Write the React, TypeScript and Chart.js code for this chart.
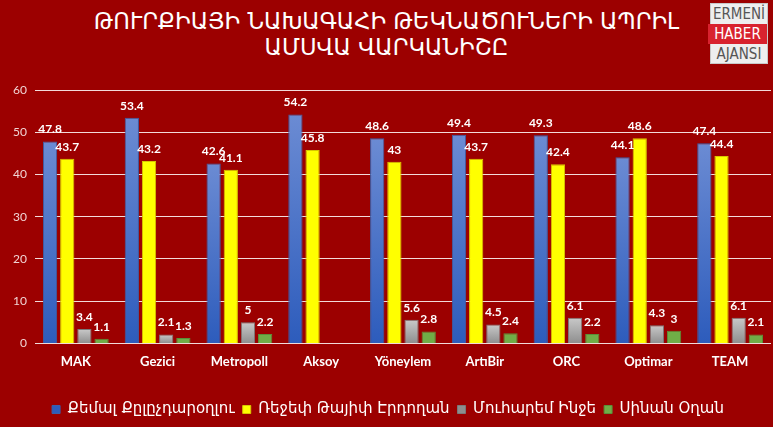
import React, { useEffect, useRef } from "react";
import { Chart, registerables } from "chart.js";

Chart.register(...registerables);

const titleLines = ["ԹՈՒՐՔԻԱՅԻ ՆԱԽԱԳԱՀԻ ԹԵԿՆԱԾՈՒՆԵՐԻ ԱՊՐԻԼ", "ԱՄՍՎԱ ՎԱՐԿԱՆԻՇԸ"];
const categories = ["MAK", "Gezici", "Metropoll", "Aksoy", "Yöneylem", "ArtıBir", "ORC", "Optimar", "TEAM"];
const seriesNames = ["Քեմալ Քըլըչդարօղլու", "Ռեջեփ Թայիփ Էրդողան", "Մուհարեմ Ինջե", "Սինան Օղան"];
const kilicdaroglu = [47.8, 53.4, 42.6, 54.2, 48.6, 49.4, 49.3, 44.1, 47.4];
const erdogan = [43.7, 43.2, 41.1, 45.8, 43, 43.7, 42.4, 48.6, 44.4];
const ince = [3.4, 2.1, 5, null, 5.6, 4.5, 6.1, 4.3, 6.1];
const ogan = [1.1, 1.3, 2.2, null, 2.8, 2.4, 2.2, 3, 2.1];
const yTicks = [0, 10, 20, 30, 40, 50, 60];

const BG = "#9c0000";

function barGradient(topColor: string, bottomColor: string, fallback: string) {
  return (ctx: any) => {
    const chart = ctx.chart;
    const ca = chart.chartArea;
    if (!ca || ctx.type !== "data" || ctx.raw == null) return fallback;
    const top = chart.scales.y.getPixelForValue(ctx.raw);
    if (!isFinite(top) || ca.bottom - top < 1) return fallback;
    const g = chart.ctx.createLinearGradient(0, top, 0, ca.bottom);
    g.addColorStop(0, topColor);
    g.addColorStop(1, bottomColor);
    return g;
  };
}

const labelPlugin = {
  id: "valueLabels",
  afterDatasetsDraw(chart: any) {
    const c = chart.ctx;
    c.save();
    c.font = "bold 12px Lato, 'DejaVu Sans', sans-serif";
    c.fillStyle = "#ffffff";
    c.textAlign = "center";
    c.textBaseline = "bottom";
    chart.data.datasets.forEach((ds: any, i: number) => {
      const meta = chart.getDatasetMeta(i);
      meta.data.forEach((bar: any, j: number) => {
        const v = ds.data[j];
        if (v == null) return;
        c.fillText(String(v), bar.x, bar.y - 6);
      });
    });
    c.restore();
  },
};

export default function App() {
  const ref = useRef<HTMLCanvasElement>(null);
  useEffect(() => {
    document.body.style.margin = "0";
    document.body.style.background = BG;
    const chart = new Chart(ref.current!, {
      type: "bar",
      data: {
        labels: categories,
        datasets: [
          {
            label: seriesNames[0],
            data: kilicdaroglu,
            backgroundColor: barGradient("#6b8bd3", "#2d5cbc", "#4472c4"),
            borderColor: "#3a5fa8",
            borderWidth: 1,
          },
          {
            label: seriesNames[1],
            data: erdogan,
            backgroundColor: "#ffff00",
            borderColor: "#d8c800",
            borderWidth: 1,
          },
          {
            label: seriesNames[2],
            data: ince,
            backgroundColor: barGradient("#c9c9c9", "#8e8e8e", "#a5a5a5"),
            borderColor: "#7a7a7a",
            borderWidth: 1,
          },
          {
            label: seriesNames[3],
            data: ogan,
            backgroundColor: "#70ad47",
            borderColor: "#5a8f38",
            borderWidth: 1,
          },
        ] as any,
      },
      options: {
        animation: false,
        responsive: false,
        maintainAspectRatio: false,
        layout: { padding: { top: 90, left: 5, right: 2, bottom: 0 } },
        datasets: { bar: { categoryPercentage: 0.84, barPercentage: 0.83 } } as any,
        scales: {
          x: {
            grid: { display: false },
            border: { display: false },
            ticks: {
              color: "#ffffff",
              font: { family: "Lato, 'DejaVu Sans', sans-serif", size: 13, weight: "bold" },
              padding: 3,
            },
            afterFit: (s: any) => {
              s.height += 21;
            },
          },
          y: {
            min: 0,
            max: 60,
            afterBuildTicks: (s: any) => {
              s.ticks = yTicks.map((v) => ({ value: v }));
            },
            grid: { color: "#f2dada", lineWidth: 1, drawTicks: false },
            border: { display: false },
            ticks: {
              color: "#f0d4d4",
              font: { family: "Lato, 'DejaVu Sans', sans-serif", size: 12 },
              padding: 8,
            },
          },
        },
        plugins: {
          legend: {
            position: "bottom",
            labels: {
              color: "#ffffff",
              boxWidth: 8,
              boxHeight: 8,
              padding: 8,
              font: { family: "'DejaVu Sans', sans-serif", size: 15 },
            },
          },
          tooltip: { enabled: false },
        },
      } as any,
      plugins: [labelPlugin],
    });
    return () => chart.destroy();
  }, []);

  const logoRow: React.CSSProperties = {
    height: 20,
    lineHeight: "20px",
    textAlign: "center",
    fontFamily: "'Liberation Sans Narrow', 'DejaVu Sans Condensed', sans-serif",
    fontSize: 15,
  };

  return (
    <div style={{ position: "relative", width: 773, height: 427, background: BG, overflow: "hidden" }}>
      <div
        style={{
          position: "absolute",
          left: 0,
          top: 8,
          width: 773,
          textAlign: "center",
          color: "#ffffff",
          fontFamily: "'DejaVu Sans', sans-serif",
          fontSize: 22.7,
          lineHeight: "26px",
        }}
      >
        {titleLines.map((t, i) => (
          <div key={i}>{t}</div>
        ))}
      </div>
      <div
        style={{
          position: "absolute",
          left: 710,
          top: 3,
          width: 58,
          height: 61,
          background: "#eeeeee",
          border: "1px solid #c8c8c8",
          boxSizing: "border-box",
        }}
      >
        <div style={{ ...logoRow, color: "#555" }}>ERMENİ</div>
        <div style={{ ...logoRow, color: "#fff", background: "#d8222e", marginLeft: -3 }}>HABER</div>
        <div style={{ ...logoRow, color: "#555" }}>AJANSI</div>
      </div>
      <canvas ref={ref} width={773} height={427} style={{ position: "absolute", left: 0, top: 0 }} />
    </div>
  );
}
